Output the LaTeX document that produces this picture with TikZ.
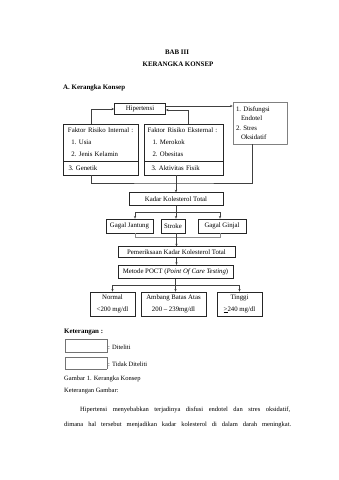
\documentclass[tikz,border=0pt]{standalone}
\usepackage{fontspec}
\setmainfont{Liberation Serif}
\usetikzlibrary{arrows.meta,calc}
\begin{document}
\begin{tikzpicture}[x=1pt,y=-1pt,
  bx/.style={draw=black!85,line width=0.75pt,inner sep=0pt,font=\fontsize{6.8}{8}\selectfont},
  dotbx/.style={draw=black!50,line width=0.6pt,dash pattern=on 0.5pt off 0.4pt,inner sep=0pt,font=\fontsize{6.8}{9.5}\selectfont},
  conn/.style={draw=black!75,line width=0.45pt},
  lconn/.style={draw=black!45,line width=0.45pt},
  arr/.style={conn,-{Stealth[length=2.6pt,width=2.2pt]}},
  lt/.style={inner sep=0pt,font=\fontsize{6.5}{8}\selectfont},
  ttl/.style={inner sep=0pt,font=\fontsize{6.9}{8}\selectfont\bfseries},
  legbox/.style={draw=black!55,line width=0.5pt,inner sep=0pt,minimum width=42pt}
]
\useasboundingbox (0,0) rectangle (339,480);
\fill[white] (0,0) rectangle (339,480);

% titles
\node[ttl] (bab) at (177,52) {BAB III};
\node[ttl] (kk) at (178,64) {KERANGKA KONSEP};
\node[ttl,anchor=west] (ak) at (63,88) {A. Kerangka Konsep};

% top row
\node[bx,minimum width=51pt,minimum height=10.5pt] (hip) at (140,109) {Hipertensi};
\node[dotbx,minimum width=54pt,minimum height=42pt,text width=48pt,align=left] (dis) at (260,123)
  {1.\ Disfungsi\\\hspace*{5pt}Endotel\\2.\ Stres\\\hspace*{5pt}Oksidatif};

\node[bx,minimum width=75pt,minimum height=37pt,text width=68pt,align=left,font=\fontsize{6.8}{12}\selectfont] (int) at (100.5,142.5)
  {\hspace*{1.5pt}Faktor Risiko Internal :\\\hspace*{5pt}1.\ Usia\\\hspace*{5pt}2.\ Jenis Kelamin};
\node[bx,minimum width=75pt,minimum height=14pt,text width=68pt,align=left] (int2) at (100.5,168) {\hspace*{2pt}3.\ Genetik};

\node[bx,minimum width=79pt,minimum height=37pt,text width=72pt,align=left,font=\fontsize{6.8}{12}\selectfont] (eks) at (183.5,142.5)
  {Faktor Risiko Eksternal :\\\hspace*{5pt}1.\ Merokok\\\hspace*{5pt}2.\ Obesitas};
\node[bx,minimum width=79pt,minimum height=14pt,text width=72pt,align=left] (eks2) at (183.5,168) {\hspace*{4pt}3.\ Aktivitas Fisik};

% middle
\node[bx,minimum width=94pt,minimum height=12.5pt] (kad) at (176,199) {Kadar Kolesterol Total};
\node[bx,minimum width=47pt,minimum height=14pt] (gj) at (129.5,226) {Gagal Jantung};
\node[bx,minimum width=24pt,minimum height=14pt] (st) at (173,226) {Stroke};
\node[bx,minimum width=48pt,minimum height=14pt] (gg) at (222,226) {Gagal Ginjal};
\node[bx,minimum width=117pt,minimum height=10.5pt] (pem) at (176.5,252) {Pemeriksaan Kadar Kolesterol Total};
\node[bx,minimum width=115pt,minimum height=13.5pt] (met) at (175.5,272) {Metode POCT (\textit{Point Of Care Testing})};

% results
\node[bx,minimum width=45pt,minimum height=24pt,align=center,font=\fontsize{6.8}{12}\selectfont] (nor) at (112.5,304) {Normal\\<200 mg/dl};
\node[bx,minimum width=65pt,minimum height=24pt,align=center,font=\fontsize{6.8}{12}\selectfont] (amb) at (173.5,304) {Ambang Batas Atas\\200 – 239mg/dl};
\node[bx,minimum width=45pt,minimum height=24pt,align=center,font=\fontsize{6.8}{12}\selectfont] (tin) at (239.5,304) {Tinggi\\\underline{>}240 mg/dl};

% connectors top
\draw[arr] ([xshift=-9.5pt]int.north) |- (hip.west);
\draw[arr] ([xshift=4.5pt]eks.north) |- ([yshift=-1pt]hip.east);
\draw[arr] ([yshift=3pt]hip.east) -- ([yshift=3pt]hip.east -| dis.west);
\coordinate (mj) at (kad.north |- 0,183);
\draw[conn] ([xshift=-9.5pt]int2.south) |- (mj) -| ([xshift=-8pt]dis.south);
\draw[arr] (kad.north |- eks2.south) -- (kad.north);

% kadar to complications
\draw[conn] (kad.south) -- ++(0,7) coordinate (k1);
\draw[arr] (k1) -| ([xshift=5.5pt]gj.north);
\draw[arr] (k1) -| ([xshift=-2pt]gg.north);
\draw[arr] (k1) -- (k1 |- st.north);
\draw[lconn] ([xshift=5.5pt]gj.south) -- ++(0,4) -| ([xshift=-2pt]gg.south);
\draw[arr] (pem.north |- st.south) -- (pem.north);
\draw[arr] (pem.south) -- (pem.south |- met.north);

% metode to results
\draw[conn] (met.south) -- ++(0,6) coordinate (m2);
\draw[arr] (m2) -| (nor.north);
\draw[arr] (m2) -| (tin.north);
\draw[arr] (m2) -- (m2 |- amb.north);

% legend
\node[ttl,anchor=west] (ket) at (64,332) {Keterangan :};
\node[legbox,minimum height=13pt] (l1) at (86,345.5) {};
\node[legbox,minimum height=12pt,dash pattern=on 0.5pt off 0.4pt] (l2) at (86,363) {};
\node[lt,anchor=west] (t1) at (108,347) {: Diteliti};
\node[lt,anchor=west] (t2) at (108,364) {: Tidak Diteliti};

% text
\node[lt,anchor=west] (gam) at (64,379) {Gambar 1. Kerangka Konsep};
\node[lt,anchor=west] (kg) at (64,391) {Keterangan Gambar:};
\node[lt,anchor=west] (p1) at (80,410) {\makebox[210pt][s]{Hipertensi menyebabkan terjadinya disfusi endotel dan stres oksidatif,}};
\node[lt,anchor=west] (p2) at (64,425) {\makebox[227pt][s]{dimana hal tersebut menjadikan kadar kolesterol di dalam darah meningkat.}};
\end{tikzpicture}
\end{document}
